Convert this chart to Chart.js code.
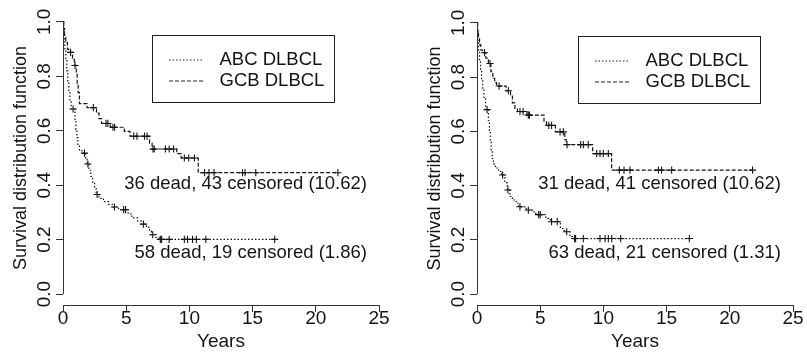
<!DOCTYPE html>
<html>
<head>
<meta charset="utf-8">
<script src="https://cdn.jsdelivr.net/npm/chart.js@4.4.1/dist/chart.umd.min.js"></script>
<style>
  html, body { margin: 0; padding: 0; background: #fff; }
  #wrap { position: relative; width: 807px; height: 354px; }
  canvas { position: absolute; top: 0; }
</style>
</head>
<body>
<div id="wrap">
  <canvas id="left" width="403" height="354" style="left:0"></canvas>
  <canvas id="right" width="404" height="354" style="left:403px"></canvas>
</div>
<script>
// axis ticks
const xTicks = [0, 5, 10, 15, 20, 25];
const yTicks = [0, 0.2, 0.4, 0.6, 0.8, 1.0];
const groups = ["ABC DLBCL", "GCB DLBCL"];

// left panel, Kaplan-Meier steps (time in years, survival)
const leftAbcTime = [0, 0.05, 0.1, 0.15, 0.22, 0.3, 0.38, 0.46, 0.55, 0.65, 0.95, 1.02, 1.1, 1.18, 1.3, 1.5, 1.8, 1.9, 2.05, 2.2, 2.35, 2.5, 2.62, 2.85, 3.2, 3.6, 3.9, 4.4, 5.15, 5.45, 5.9, 6.2, 6.6, 6.85, 7.0, 7.35, 7.6, 16.75];
const leftAbcSurv = [1, 0.965, 0.93, 0.895, 0.86, 0.82, 0.78, 0.745, 0.71, 0.68, 0.64, 0.605, 0.575, 0.55, 0.53, 0.518, 0.5, 0.478, 0.455, 0.432, 0.41, 0.388, 0.366, 0.352, 0.34, 0.33, 0.32, 0.31, 0.295, 0.28, 0.268, 0.257, 0.245, 0.232, 0.218, 0.208, 0.201, 0.201];
const leftAbcCensTime = [0.8, 1.7, 1.97, 2.7, 4.07, 4.8, 4.95, 6.36, 7.1, 7.7, 7.8, 8.4, 9.6, 9.85, 10.25, 10.55, 11.3, 16.75];
const leftAbcCensSurv = [0.68, 0.518, 0.478, 0.366, 0.32, 0.31, 0.31, 0.257, 0.218, 0.201, 0.201, 0.201, 0.201, 0.201, 0.201, 0.201, 0.201, 0.201];

const leftGcbTime = [0, 0.06, 0.13, 0.22, 0.35, 0.45, 0.75, 0.9, 1.05, 1.12, 1.2, 1.3, 1.9, 2.65, 2.85, 3.05, 3.75, 4.85, 5.3, 6.85, 7.05, 9.0, 9.35, 10.7, 21.75];
const leftGcbSurv = [1, 0.975, 0.95, 0.925, 0.9, 0.888, 0.862, 0.84, 0.81, 0.775, 0.74, 0.7, 0.685, 0.665, 0.645, 0.627, 0.613, 0.598, 0.58, 0.555, 0.533, 0.516, 0.5, 0.446, 0.446];
const leftGcbCensTime = [0.6, 0.95, 2.4, 3.4, 3.55, 3.95, 4.08, 5.6, 5.85, 6.45, 6.65, 7.12, 7.22, 8.1, 8.4, 8.75, 9.6, 9.95, 10.4, 11.2, 11.55, 11.95, 14.2, 14.4, 15.25, 21.75];
const leftGcbCensSurv = [0.888, 0.84, 0.685, 0.627, 0.627, 0.613, 0.613, 0.58, 0.58, 0.58, 0.58, 0.533, 0.533, 0.533, 0.533, 0.533, 0.5, 0.5, 0.5, 0.446, 0.446, 0.446, 0.446, 0.446, 0.446, 0.446];

// right panel
const rightAbcTime = [0, 0.04, 0.08, 0.13, 0.2, 0.28, 0.36, 0.45, 0.55, 0.68, 0.9, 0.98, 1.05, 1.12, 1.2, 1.3, 1.45, 1.7, 1.95, 2.2, 2.4, 2.6, 2.8, 3.1, 3.3, 3.9, 4.5, 4.85, 5.45, 5.8, 6.6, 6.9, 7.35, 7.55, 16.8];
const rightAbcSurv = [1, 0.965, 0.93, 0.895, 0.86, 0.825, 0.79, 0.755, 0.72, 0.68, 0.64, 0.6, 0.565, 0.53, 0.5, 0.48, 0.465, 0.452, 0.439, 0.41, 0.384, 0.36, 0.347, 0.335, 0.322, 0.31, 0.298, 0.293, 0.279, 0.267, 0.242, 0.23, 0.212, 0.205, 0.205];
const rightAbcCensTime = [0.8, 2.03, 2.45, 3.4, 4.06, 4.88, 5.0, 5.9, 6.35, 7.1, 7.72, 7.8, 8.41, 9.73, 10.13, 10.39, 10.66, 11.37, 16.8];
const rightAbcCensSurv = [0.68, 0.439, 0.384, 0.322, 0.31, 0.293, 0.293, 0.267, 0.267, 0.23, 0.205, 0.205, 0.205, 0.205, 0.205, 0.205, 0.205, 0.205, 0.205];

const rightGcbTime = [0, 0.05, 0.12, 0.2, 0.3, 0.45, 0.7, 0.9, 1.1, 1.25, 1.4, 1.55, 2.3, 2.65, 2.8, 3.0, 3.2, 3.95, 5.3, 5.5, 6.2, 6.95, 7.05, 9.15, 10.65, 21.8];
const rightGcbSurv = [1, 0.97, 0.945, 0.92, 0.9, 0.89, 0.87, 0.85, 0.82, 0.795, 0.78, 0.767, 0.75, 0.73, 0.705, 0.685, 0.673, 0.66, 0.635, 0.622, 0.598, 0.57, 0.551, 0.518, 0.457, 0.457];
const rightGcbCensTime = [0.6, 1.03, 1.75, 2.48, 3.4, 3.65, 4.06, 4.15, 5.68, 5.9, 6.57, 6.83, 7.12, 8.2, 8.41, 8.8, 9.47, 9.73, 9.99, 10.39, 11.26, 11.63, 12.1, 14.35, 14.6, 15.4, 21.8];
const rightGcbCensSurv = [0.89, 0.85, 0.767, 0.75, 0.673, 0.673, 0.66, 0.66, 0.622, 0.622, 0.598, 0.598, 0.551, 0.551, 0.551, 0.551, 0.518, 0.518, 0.518, 0.518, 0.457, 0.457, 0.457, 0.457, 0.457, 0.457, 0.457];

const leftNotes = ["36 dead, 43 censored (10.62)", "58 dead, 19 censored (1.86)"];
const rightNotes = ["31 dead, 41 censored (10.62)", "63 dead, 21 censored (1.31)"];

const FONT = "'Liberation Sans', Arial, Helvetica, sans-serif";
const INK = "#151515";
const AXIS = "#333";
const DOTTED = [1.5, 2];
const DASHED = [4, 2];

function points(times, surv) {
    return times.map((t, i) => ({ x: t, y: surv[i] }));
}

// R-style extras: y axis line only over 0..1, boxed legend, text notes
const kmExtras = {
    id: "kmExtras",
    afterDatasetsDraw(chart, args, opts) {
        const { ctx, chartArea } = chart;
        const xs = chart.scales.x, ys = chart.scales.y;
        ctx.save();

        const ax = Math.round(chartArea.left - 0.5) + 0.5;
        ctx.strokeStyle = AXIS;
        ctx.lineWidth = 1;
        ctx.setLineDash([]);
        ctx.beginPath();
        ctx.moveTo(ax, ys.getPixelForValue(0));
        ctx.lineTo(ax, ys.getPixelForValue(1));
        ctx.stroke();

        // legend box
        const bx = Math.round(xs.getPixelForValue(opts.legendAt[0])) + 0.5;
        const by = Math.round(ys.getPixelForValue(opts.legendAt[1])) + 0.5;
        ctx.strokeStyle = "#222";
        ctx.strokeRect(bx, by, 182, 67);
        ctx.font = "18.5px " + FONT;
        ctx.fillStyle = INK;
        ctx.textBaseline = "middle";
        ctx.textAlign = "left";
        const dashes = [DOTTED, DASHED];
        groups.forEach((g, i) => {
            const ry = by + 24.5 + i * 21;
            ctx.setLineDash(dashes[i]);
            ctx.beginPath();
            ctx.moveTo(bx + 16.5, ry);
            ctx.lineTo(bx + 51, ry);
            ctx.stroke();
            ctx.fillText(g, bx + 67, ry);
        });
        ctx.setLineDash([]);

        // notes, right aligned
        ctx.textAlign = "right";
        opts.notes.forEach((txt, i) => {
            ctx.fillText(txt, xs.getPixelForValue(opts.noteX), ys.getPixelForValue(opts.noteY[i]));
        });
        ctx.restore();
    }
};

function makePanel(id, p) {
    const ctx = document.getElementById(id).getContext("2d");
    const lineDs = (label, data, dash) => ({
        label: label, data: data, showLine: true, stepped: "before",
        borderColor: INK, borderWidth: 1.2, borderDash: dash, pointRadius: 0, fill: false
    });
    const censDs = (label, data) => ({
        label: label, data: data, showLine: false, pointStyle: "cross",
        pointRadius: 3.6, borderColor: INK, borderWidth: 1.1
    });
    return new Chart(ctx, {
        type: "scatter",
        data: {
            datasets: [
                lineDs(groups[0], points(p.abcT, p.abcS), DOTTED),
                lineDs(groups[1], points(p.gcbT, p.gcbS), DASHED),
                censDs(groups[0] + " censored", points(p.abcCT, p.abcCS)),
                censDs(groups[1] + " censored", points(p.gcbCT, p.gcbCS))
            ]
        },
        options: {
            responsive: false,
            animation: false,
            layout: { padding: p.padding },
            plugins: {
                legend: { display: false },
                tooltip: { enabled: false },
                kmExtras: { notes: p.notes, noteX: 24.05, noteY: [0.405, 0.152], legendAt: p.legendAt }
            },
            scales: {
                x: {
                    type: "linear", min: 0, max: 25,
                    afterBuildTicks: s => { s.ticks = xTicks.map(v => ({ value: v })); },
                    afterFit: s => { s.height = 49; s.paddingLeft = 0; s.paddingRight = 0; },
                    ticks: { font: { family: FONT, size: 19, lineHeight: 1 }, color: INK, padding: -3, maxRotation: 0 },
                    grid: { drawOnChartArea: false, tickLength: 7, color: AXIS },
                    border: { color: AXIS },
                    title: { display: true, text: "Years", color: INK, font: { family: FONT, size: 19 }, padding: { top: 0, bottom: 1 } }
                },
                y: {
                    type: "linear", min: -0.04, max: 1.04,
                    afterBuildTicks: s => { s.ticks = yTicks.map(v => ({ value: v })); },
                    afterFit: s => { s.width = 63; s.paddingTop = 0; s.paddingBottom = 0; },
                    ticks: {
                        font: { family: FONT, size: 19, lineHeight: 1 }, color: INK,
                        minRotation: 90, maxRotation: 90, crossAlign: "center", padding: -2,
                        callback: v => v.toFixed(1)
                    },
                    grid: { drawOnChartArea: false, tickLength: 7, color: AXIS },
                    border: { display: false },
                    title: { display: true, text: "Survival distribution function", color: INK, font: { family: FONT, size: 18 }, padding: { top: 10, bottom: 0 } }
                }
            }
        },
        plugins: [kmExtras]
    });
}

makePanel("left", {
    abcT: leftAbcTime, abcS: leftAbcSurv, abcCT: leftAbcCensTime, abcCS: leftAbcCensSurv,
    gcbT: leftGcbTime, gcbS: leftGcbSurv, gcbCT: leftGcbCensTime, gcbCS: leftGcbCensSurv,
    notes: leftNotes, legendAt: [7.04, 0.952],
    padding: { left: 0, right: 24, top: 11, bottom: 0 }
});
makePanel("right", {
    abcT: rightAbcTime, abcS: rightAbcSurv, abcCT: rightAbcCensTime, abcCS: rightAbcCensSurv,
    gcbT: rightGcbTime, gcbS: rightGcbSurv, gcbCT: rightGcbCensTime, gcbCS: rightGcbCensSurv,
    notes: rightNotes, legendAt: [7.99, 0.952],
    padding: { left: 11, right: 14, top: 12, bottom: 0 }
});
</script>
</body>
</html>
